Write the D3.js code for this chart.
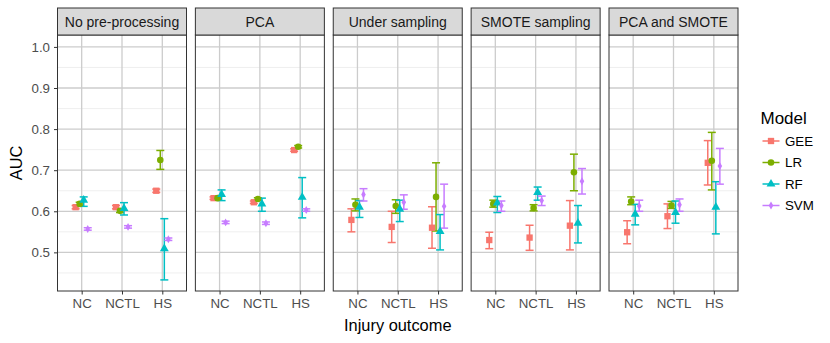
<!DOCTYPE html>
<html>
<head>
<meta charset="utf-8">
<script src="https://cdn.jsdelivr.net/npm/d3@7"></script>
<style>
  body { margin: 0; background: #fff; }
  text { font-family: "Liberation Sans", Arial, sans-serif; }
</style>
</head>
<body>
<svg id="chart" width="830" height="343"></svg>
<script>
var methods = ["No pre-processing", "PCA", "Under sampling", "SMOTE sampling", "PCA and SMOTE"];
var outcomes = ["NC", "NCTL", "HS"];
var models = ["GEE", "LR", "RF", "SVM"];
var colors = ["#F8766D", "#7CAE00", "#00BFC4", "#C77CFF"];
var yTicks = [0.5, 0.6, 0.7, 0.8, 0.9, 1.0];
var yMinor = [0.45, 0.55, 0.65, 0.75, 0.85, 0.95];

// one row per method, values for NC, NCTL, HS as [auc, lower, upper]
var gee = [
  [[0.610, 0.606, 0.614], [0.610, 0.606, 0.614], [0.650, 0.646, 0.654]],
  [[0.632, 0.629, 0.635], [0.622, 0.619, 0.625], [0.749, 0.746, 0.752]],
  [[0.579, 0.550, 0.606], [0.562, 0.524, 0.600], [0.560, 0.510, 0.611]],
  [[0.530, 0.509, 0.549], [0.536, 0.505, 0.566], [0.565, 0.506, 0.626]],
  [[0.549, 0.521, 0.577], [0.588, 0.558, 0.618], [0.718, 0.664, 0.772]]
];
var lr = [
  [[0.618, 0.614, 0.622], [0.601, 0.597, 0.605], [0.725, 0.702, 0.748]],
  [[0.632, 0.629, 0.635], [0.630, 0.627, 0.633], [0.757, 0.754, 0.760]],
  [[0.616, 0.601, 0.630], [0.613, 0.595, 0.628], [0.635, 0.552, 0.718]],
  [[0.618, 0.610, 0.627], [0.608, 0.601, 0.616], [0.695, 0.650, 0.739]],
  [[0.624, 0.616, 0.635], [0.614, 0.607, 0.624], [0.723, 0.652, 0.792]]
];
var rf = [
  [[0.627, 0.612, 0.635], [0.607, 0.591, 0.621], [0.509, 0.433, 0.582]],
  [[0.641, 0.626, 0.652], [0.618, 0.600, 0.632], [0.634, 0.584, 0.682]],
  [[0.610, 0.585, 0.626], [0.605, 0.575, 0.627], [0.551, 0.506, 0.592]],
  [[0.620, 0.597, 0.636], [0.646, 0.627, 0.659], [0.571, 0.523, 0.614]],
  [[0.593, 0.567, 0.617], [0.597, 0.571, 0.625], [0.610, 0.545, 0.672]]
];
var svm = [
  [[0.557, 0.554, 0.560], [0.562, 0.559, 0.565], [0.532, 0.529, 0.535]],
  [[0.573, 0.570, 0.576], [0.571, 0.568, 0.574], [0.603, 0.600, 0.606]],
  [[0.641, 0.625, 0.655], [0.622, 0.605, 0.640], [0.612, 0.559, 0.666]],
  [[0.614, 0.600, 0.625], [0.626, 0.614, 0.637], [0.673, 0.642, 0.704]],
  [[0.613, 0.600, 0.627], [0.616, 0.600, 0.630], [0.710, 0.666, 0.753]]
];
var series = [gee, lr, rf, svm];

var svg = d3.select("#chart");

var panelTop = 35, panelBottom = 291, stripTop = 8;

var panelX = d3.scaleBand().domain(methods).range([57.5, 738]).paddingInner(0.0644);
var pw = panelX.bandwidth();

var xCat = d3.scalePoint().domain(outcomes).range([0, pw]).padding(0.6);
var step = xCat.step();
var dodge = d3.scaleBand().domain(models).range([-0.2 * step, 0.2 * step]);

var y = d3.scaleLinear().domain([0.406, 1.029]).range([panelBottom, panelTop]);
var color = d3.scaleOrdinal().domain(models).range(colors);

var symbolFor = {
  GEE: d3.symbol().type(d3.symbolSquare).size(40),
  LR: d3.symbol().type(d3.symbolCircle).size(34),
  RF: d3.symbol().type(d3.symbolTriangle).size(34),
  SVM: d3.symbol().type(d3.symbolDiamond).size(18)
};

var rows = [];
methods.forEach(function(m, mi) {
  models.forEach(function(mod, k) {
    outcomes.forEach(function(o, oi) {
      var v = series[k][mi][oi];
      rows.push({ method: m, model: mod, outcome: o, auc: v[0], lo: v[1], hi: v[2] });
    });
  });
});

function cx(d) {
  return xCat(d.outcome) + dodge(d.model) + dodge.bandwidth() / 2;
}

methods.forEach(function(m) {
  var g = svg.append("g").attr("transform", "translate(" + panelX(m) + ",0)");

  g.append("rect")
    .attr("x", 0).attr("y", panelTop)
    .attr("width", pw).attr("height", panelBottom - panelTop)
    .attr("fill", "#fff");

  g.selectAll("line.minor").data(yMinor).enter().append("line")
    .attr("x1", 0).attr("x2", pw)
    .attr("y1", y).attr("y2", y)
    .attr("stroke", "#ebebeb").attr("stroke-width", 0.8);

  g.selectAll("line.major").data(yTicks).enter().append("line")
    .attr("x1", 0).attr("x2", pw)
    .attr("y1", y).attr("y2", y)
    .attr("stroke", "#cccccc").attr("stroke-width", 1.3);

  g.selectAll("line.vmajor").data(outcomes).enter().append("line")
    .attr("x1", xCat).attr("x2", xCat)
    .attr("y1", panelTop).attr("y2", panelBottom)
    .attr("stroke", "#cccccc").attr("stroke-width", 1.3);

  var data = rows.filter(function(d) { return d.method === m; });

  var bars = g.append("g").selectAll("g").data(data).enter().append("g")
    .attr("stroke", function(d) { return color(d.model); })
    .attr("stroke-width", 1.5);
  bars.append("line")
    .attr("x1", cx).attr("x2", cx)
    .attr("y1", function(d) { return y(d.lo); })
    .attr("y2", function(d) { return y(d.hi); });
  bars.append("line")
    .attr("x1", function(d) { return cx(d) - 4; })
    .attr("x2", function(d) { return cx(d) + 4; })
    .attr("y1", function(d) { return y(d.lo); })
    .attr("y2", function(d) { return y(d.lo); });
  bars.append("line")
    .attr("x1", function(d) { return cx(d) - 4; })
    .attr("x2", function(d) { return cx(d) + 4; })
    .attr("y1", function(d) { return y(d.hi); })
    .attr("y2", function(d) { return y(d.hi); });

  g.append("g").selectAll("path").data(data).enter().append("path")
    .attr("d", function(d) { return symbolFor[d.model](); })
    .attr("transform", function(d) { return "translate(" + cx(d) + "," + y(d.auc) + ")"; })
    .attr("fill", function(d) { return color(d.model); });

  g.append("rect")
    .attr("x", 0).attr("y", panelTop)
    .attr("width", pw).attr("height", panelBottom - panelTop)
    .attr("fill", "none").attr("stroke", "#333333").attr("stroke-width", 1);

  g.append("rect")
    .attr("x", 0).attr("y", stripTop)
    .attr("width", pw).attr("height", panelTop - stripTop)
    .attr("fill", "#d9d9d9").attr("stroke", "#333333").attr("stroke-width", 1);
  g.append("text")
    .attr("x", pw / 2).attr("y", (stripTop + panelTop) / 2)
    .attr("dy", "0.36em")
    .attr("text-anchor", "middle")
    .attr("font-size", "14px")
    .attr("fill", "#1a1a1a")
    .text(m);

  var xAxis = g.append("g")
    .attr("transform", "translate(0," + panelBottom + ")")
    .call(d3.axisBottom(xCat).tickSize(3.5).tickPadding(4));
  xAxis.select(".domain").remove();
  xAxis.selectAll("line").attr("stroke", "#333333");
  xAxis.selectAll("text").attr("font-size", "13.3px").attr("fill", "#4d4d4d")
    .attr("font-family", "Liberation Sans, Arial, sans-serif");
});

var yAxis = svg.append("g")
  .attr("transform", "translate(" + panelX(methods[0]) + ",0)")
  .call(d3.axisLeft(y).tickValues(yTicks).tickFormat(d3.format(".1f")).tickSize(3.5).tickPadding(4));
yAxis.select(".domain").remove();
yAxis.selectAll("line").attr("stroke", "#333333");
yAxis.selectAll("text").attr("font-size", "13.3px").attr("fill", "#4d4d4d")
  .attr("font-family", "Liberation Sans, Arial, sans-serif");

svg.append("text")
  .attr("transform", "translate(22," + (panelTop + panelBottom) / 2 + ") rotate(-90)")
  .attr("text-anchor", "middle")
  .attr("font-size", "16.4px")
  .attr("fill", "#000")
  .text("AUC");

svg.append("text")
  .attr("x", (57.5 + 738) / 2).attr("y", 331)
  .attr("text-anchor", "middle")
  .attr("font-size", "16.4px")
  .attr("fill", "#000")
  .text("Injury outcome");

// legend
var legend = svg.append("g").attr("transform", "translate(757,0)");
legend.append("text")
  .attr("x", 3.5).attr("y", 124)
  .attr("font-size", "17px")
  .attr("fill", "#000")
  .text("Model");

var keys = legend.selectAll("g.key").data(models).enter().append("g")
  .attr("transform", function(d, i) { return "translate(0," + (141 + i * 21.5) + ")"; });
keys.append("line")
  .attr("x1", 5.5).attr("x2", 22.5)
  .attr("stroke", function(d) { return color(d); })
  .attr("stroke-width", 1.5);
keys.append("path")
  .attr("d", function(d) { return symbolFor[d](); })
  .attr("transform", "translate(14,0)")
  .attr("fill", function(d) { return color(d); });
keys.append("text")
  .attr("x", 28).attr("dy", "0.36em")
  .attr("font-size", "13.3px")
  .attr("fill", "#000")
  .text(function(d) { return d; });
</script>
</body>
</html>
